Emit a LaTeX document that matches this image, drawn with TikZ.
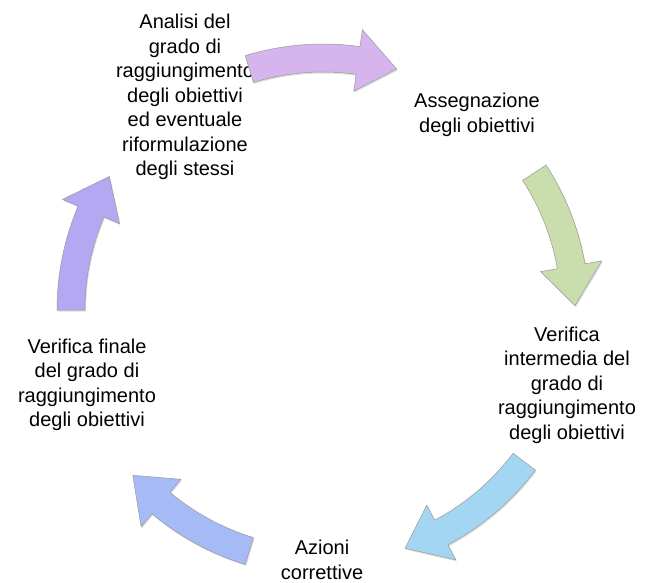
\documentclass[tikz,border=0pt]{standalone}
\usepackage{fontspec}
\setmainfont{Liberation Sans}
\usetikzlibrary{shadows}

\definecolor{arrowtop}{RGB}{214,181,236}
\definecolor{arrowright}{RGB}{201,222,172}
\definecolor{arrowbr}{RGB}{163,214,242}
\definecolor{arrowbl}{RGB}{166,186,246}
\definecolor{arrowleft}{RGB}{180,168,242}

\begin{document}
\begin{tikzpicture}[x=1pt,y=-1pt,thick,
    main node/.style={align=center,inner sep=0pt,font=\fontsize{20}{24.5}\selectfont},
    cycle arrow/.style={draw=gray!80,line width=0.5pt,drop shadow={opacity=0.25,shadow xshift=1pt,shadow yshift=-1.5pt}}]
            \useasboundingbox (0,0) rectangle (645,583);
            \coordinate (c) at (323,310);

            \node[main node] (1) at (185,97) {Analisi del\\grado di\\raggiungimento\\degli obiettivi\\ed eventuale\\riformulazione\\degli stessi};
            \node[main node] (2) at (477,115) {Assegnazione\\degli obiettivi};
            \node[main node] (3) at (567,385) {Verifica\\intermedia del\\grado di\\raggiungimento\\degli obiettivi};
            \node[main node] (4) at (322,560) {Azioni\\correttive};
            \node[main node] (5) at (87,385) {Verifica finale\\del grado di\\raggiungimento\\degli obiettivi};

            % curved block arrows around the cycle
            \foreach \s/\e/\col in {253/287/arrowtop, 327/359/arrowright, 37/71/arrowbr, 107/139/arrowbl, 180/212/arrowleft}{
                \pgfmathsetmacro\h{\e-9}
                \filldraw[cycle arrow, fill=\col, shift={(c)}]
                    (\s:238) arc[start angle=\s, end angle=\h, radius=238]
                    -- (\h:221) -- (\e:252) -- (\h:283) -- (\h:266)
                    arc[start angle=\h, end angle=\s, radius=266] -- cycle;
            }
        \end{tikzpicture}
\end{document}
